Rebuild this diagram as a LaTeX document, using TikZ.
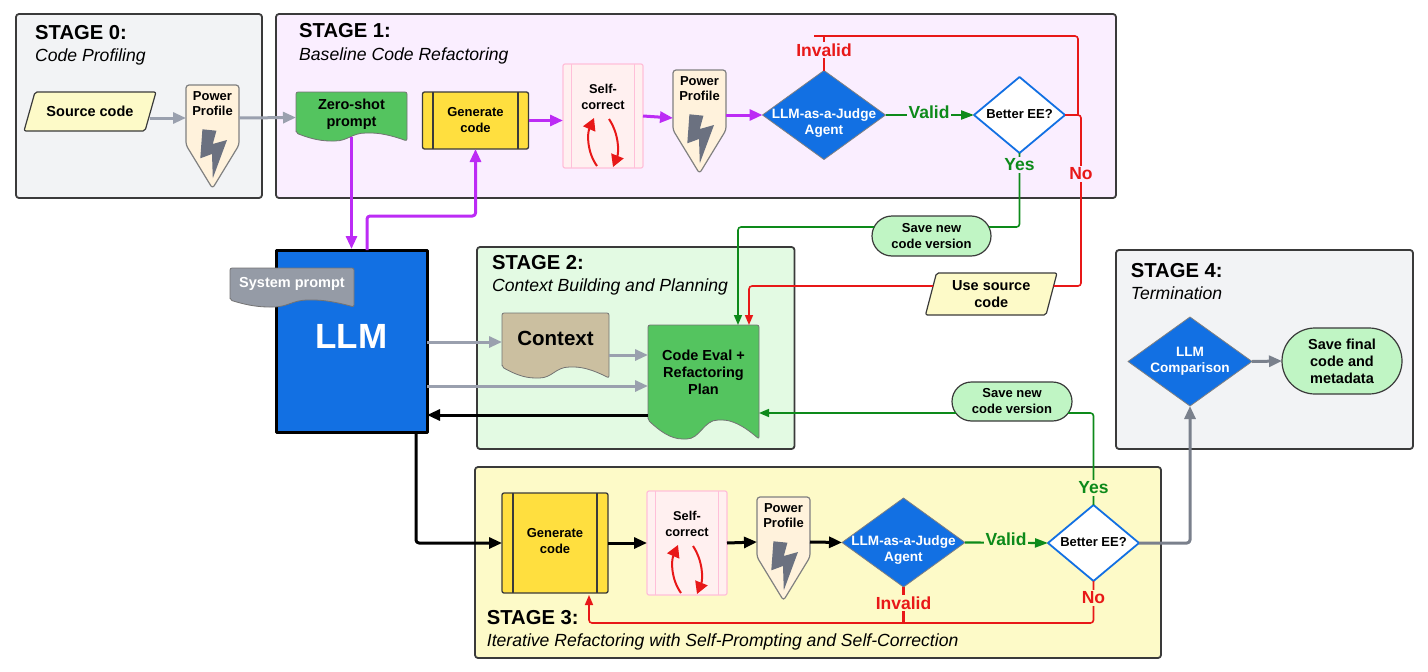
\documentclass[tikz,border=0pt]{standalone}
\usepackage{fontspec}
\setmainfont{Liberation Sans}
\usepackage{xcolor}
\usetikzlibrary{arrows.meta,shapes.geometric,shapes.misc}

\definecolor{stagegrey}{HTML}{F2F3F5}
\definecolor{stageone}{HTML}{FAEEFF}
\definecolor{stagetwo}{HTML}{E3FAE3}
\definecolor{stagethree}{HTML}{FDFAC8}
\definecolor{framecol}{HTML}{3A3A3A}
\definecolor{llmblue}{HTML}{1270E3}
\definecolor{docgreen}{HTML}{54C45F}
\definecolor{genyellow}{HTML}{FFDF3F}
\definecolor{paleyellow}{HTML}{FDFAC8}
\definecolor{palegreen}{HTML}{C0F5C4}
\definecolor{sandcol}{HTML}{CBBFA0}
\definecolor{promptgrey}{HTML}{959BA6}
\definecolor{lightarrow}{HTML}{9AA0AE}
\definecolor{darkarrow}{HTML}{7A808C}
\definecolor{purpleline}{HTML}{BC2BF5}
\definecolor{redline}{HTML}{E81818}
\definecolor{greenline}{HTML}{0D8A1A}
\definecolor{boltcol}{HTML}{6B7180}
\definecolor{ppfill}{HTML}{FFF2DC}
\definecolor{selffill}{HTML}{FFF0F0}
\definecolor{selfline}{HTML}{FFBFD9}

\tikzset{
  stagebox/.style={draw=framecol,line width=1.8pt,rounded corners=3pt},
  titletext/.style={anchor=base west,inner sep=0pt,font=\fontsize{20.2}{23}\selectfont\bfseries},
  subtext/.style={anchor=base west,inner sep=0pt,font=\fontsize{17.6}{21}\selectfont\itshape},
  boldtext/.style={align=center,inner sep=0pt,font=\fontsize{14.5}{17}\selectfont\bfseries},
  smalltext/.style={align=center,inner sep=0pt,font=\fontsize{13}{16}\selectfont\bfseries},
  paratext/.style={boldtext,outer sep=0pt},
  parashape/.style={draw=framecol,line width=1.2pt,fill=paleyellow,rounded corners=2pt},
  docshape/.style={draw=black!55,line width=0.8pt,rounded corners=2pt},
  genbox/.style={smalltext,draw=framecol,line width=1.3pt,fill=genyellow,rounded corners=2pt,outer sep=0pt},
  selfbox/.style={draw=selfline,line width=1.2pt,fill=selffill,rounded corners=2pt,outer sep=0pt,
    minimum width=80pt,minimum height=104pt},
  ppshape/.style={draw=gray,line width=1.2pt,fill=ppfill,rounded corners=3pt},
  ppbox/.style={inner sep=0pt,outer sep=0pt,minimum width=53pt},
  judgebox/.style={diamond,fill=llmblue,draw=gray,line width=0.8pt,inner sep=0pt,outer sep=0pt},
  betterbox/.style={diamond,fill=white,draw=llmblue,line width=1.8pt,inner sep=0pt,outer sep=0pt,
    minimum width=91pt,minimum height=76pt},
  pillbox/.style={rounded rectangle,fill=palegreen,draw=framecol,line width=1.2pt,outer sep=0pt},
  whitetext/.style={smalltext,text=white,font=\fontsize{13.6}{16}\selectfont\bfseries},
  greyarrow/.style={->,draw=lightarrow,line width=3pt},
  darkgrey/.style={->,draw=darkarrow,line width=3pt,rounded corners=3pt},
  purplearrow/.style={->,draw=purpleline,line width=3pt,rounded corners=3pt},
  blackarrow/.style={->,draw=black,line width=3pt,rounded corners=3pt},
  greenarrow/.style={draw=greenline,line width=1.6pt,rounded corners=3pt,
    -{Triangle[length=10pt,width=8pt]}},
  validarrow/.style={draw=greenline,line width=2.2pt,
    -{Triangle[length=13pt,width=9pt]}},
  redarrow/.style={draw=redline,line width=1.6pt,rounded corners=3pt,
    -{Triangle[length=10pt,width=8pt]}},
  redplain/.style={draw=redline,line width=1.6pt,rounded corners=3pt},
  greenplain/.style={draw=greenline,line width=1.6pt,rounded corners=3pt},
  redlabel/.style={text=redline,inner sep=1.5pt,font=\fontsize{17.5}{19}\selectfont\bfseries},
  greenlabel/.style={text=greenline,inner sep=1.5pt,font=\fontsize{17.5}{19}\selectfont\bfseries},
}

% name, left, top, half height of the box
\newcommand{\powerprofile}[4]{
  \begin{scope}[shift={(#2,#3)}]
    \draw[ppshape] (0,0) -- (53,0) -- (53,60) -- (26.5,103.5) -- (0,60) -- cycle;
    \fill[boltcol] (16.4,44.3) -- (30.4,45.7) -- (26.8,59) -- (41,55) -- (26.8,93.3)
      -- (26,69) -- (14.3,73.3) -- cycle;
  \end{scope}
  \node[ppbox,minimum height={2*#4}] (#1) at ({#2+26.5},{#3+#4}) {};
  \node[smalltext,font=\fontsize{13}{15.5}\selectfont\bfseries] (#1text) at ({#2+26.5},{#3+18.5}) {Power\\Profile};
}
% name, left, top
\newcommand{\selfcorrect}[3]{
  \node[selfbox] (#1) at ({#2+40},{#3+52}) {};
  \draw[selfline,line width=1.2pt] ([xshift=8.5pt]#1.north west) -- ([xshift=8.5pt]#1.south west);
  \draw[selfline,line width=1.2pt] ([xshift=-8.5pt]#1.north east) -- ([xshift=-8.5pt]#1.south east);
  \node[smalltext,font=\fontsize{12.8}{16}\selectfont\bfseries] (#1text) at ({#2+40},{#3+33}) {Self-\\correct};
  \draw[redline,line width=2pt,-{Triangle[length=12pt,width=13pt]}]
    ({#2+34},{#3+102}) .. controls ({#2+24},{#3+88}) and ({#2+24},{#3+70}) .. ({#2+31},{#3+54});
  \draw[redline,line width=2pt,-{Triangle[length=12pt,width=13pt]}]
    ({#2+46},{#3+55}) .. controls ({#2+56},{#3+70}) and ({#2+56},{#3+88}) .. ({#2+50},{#3+103});
}
% name, fill, left, top, right, wave left, wave right, font style, text
\newcommand{\docnode}[9]{
  \pgfmathsetmacro\docw{#5-#3}
  \pgfmathsetmacro\docd{#7-#6}
  \draw[docshape,fill=#2] (#3,#6) -- (#3,#4) -- (#5,#4) -- (#5,#7)
    .. controls ({#3+.85*\docw},{#6+.25*\docd}) and ({#3+.75*\docw},#6) .. ({#3+.65*\docw},#6)
    .. controls ({#3+.5*\docw},#6) and ({#3+.47*\docw},#7) .. ({#3+.33*\docw},#7)
    .. controls ({#3+.2*\docw},#7) and ({#3+.1*\docw},{#6+.55*\docd}) .. (#3,#6) -- cycle;
  \node[#8,outer sep=0pt,minimum width={#5-#3},minimum height={#6-#4}] (#1) at ({(#3+#5)/2},{(#4+#6)/2}) {#9};
}
% name, left, top, right, bottom, text
\newcommand{\paranode}[6]{
  \draw[parashape] ({#2+11},#3) -- (#4,#3) -- ({#4-11},#5) -- (#2,#5) -- cycle;
  \node[paratext,minimum width={#4-#2},minimum height={#5-#3}] (#1) at ({(#2+#4)/2},{(#3+#5)/2}) {#6};
}

\begin{document}
\begin{tikzpicture}[x=1pt,y=-1pt,>={Triangle[length=13pt,width=11pt]},line join=round]
  \useasboundingbox (0,0) rectangle (1428,672);
  % stage frames
  \draw[stagebox,fill=stagegrey] (16,14) rectangle (262,198);
  \draw[stagebox,fill=stageone] (276,14) rectangle (1116,198);
  \draw[stagebox,fill=stagetwo] (477,247) rectangle (794.5,449);
  \draw[stagebox,fill=stagethree] (475,467) rectangle (1161,658);
  \draw[stagebox,fill=stagegrey] (1116,250) rectangle (1413,449);
  \node[titletext] (titlezero) at (35,39.5) {STAGE 0:};
  \node[subtext] (subzero) at (35,61.7) {Code Profiling};
  \node[titletext] (titleone) at (299,37.5) {STAGE 1:};
  \node[subtext] (subone) at (299,60) {Baseline Code Refactoring};
  \node[titletext] (titletwo) at (492,269.3) {STAGE 2:};
  \node[subtext] (subtwo) at (492,291.7) {Context Building and Planning};
  \node[titletext] (titlethree) at (486.7,624) {STAGE 3:};
  \node[subtext] (subthree) at (486.7,646.7) {Iterative Refactoring with Self-Prompting and Self-Correction};
  \node[titletext] (titlefour) at (1130.7,277.3) {STAGE 4:};
  \node[subtext] (subfour) at (1130.7,299.3) {Termination};
  % stage 0 and stage 1
  \paranode{srccode}{24}{92}{156}{131}{Source code}
  \powerprofile{ppa}{186}{85}{33}
  \docnode{zeroshot}{docgreen}{296}{92}{407}{133}{141}{boldtext,yshift=-2pt}{Zero-shot\\prompt}
  \node[genbox,minimum width=106pt,minimum height=57pt] (gena) at (475.5,120.5) {Generate\\code};
  \draw[framecol,line width=1.3pt] ([xshift=10.5pt]gena.north west) -- ([xshift=10.5pt]gena.south west);
  \draw[framecol,line width=1.3pt] ([xshift=-10.5pt]gena.north east) -- ([xshift=-10.5pt]gena.south east);
  \selfcorrect{selfa}{563}{64}
  \powerprofile{ppb}{673}{70}{48}
  \node[judgebox,minimum width=123pt,minimum height=89pt] (judgea) at (824,115) {};
  \node[whitetext] (judgeatext) at (824,123) {LLM-as-a-Judge\\Agent};
  \node[betterbox] (bettera) at (1019.5,115) {};
  \node[smalltext] (betteratext) at (1019.5,114) {Better EE?};
  \node[pillbox,minimum width=119pt,minimum height=40pt,smalltext] (pilla) at (931.5,236) {Save new\\code version};
  \paranode{usesrc}{925.5}{273}{1057}{315}{Use source\\code}
  % LLM and stage 2
  \node[draw=black,line width=3pt,fill=llmblue,minimum width=151pt,minimum height=182pt,outer sep=0pt] (llm) at (351.5,341) {};
  \node[text=white,inner sep=0pt,font=\fontsize{35}{40}\selectfont\bfseries] (llmtext) at (351.5,336) {LLM};
  \docnode{sysprompt}{promptgrey}{230}{268}{354}{300}{307}{boldtext,text=white}{System prompt}
  \docnode{context}{sandcol}{502}{313}{609}{367}{378}{boldtext,yshift=2pt,font=\fontsize{20.5}{24}\selectfont\bfseries}{Context}
  \docnode{plan}{docgreen}{648}{325}{759}{420}{439}{boldtext}{Code Eval +\\Refactoring\\Plan}
  \node[pillbox,minimum width=120pt,minimum height=39pt,smalltext] (pillb) at (1012,401.5) {Save new\\code version};
  % stage 3
  \node[genbox,minimum width=106pt,minimum height=100pt] (genb) at (555,543) {};
  \node[smalltext] (genbtext) at (555,541) {Generate\\code};
  \draw[framecol,line width=1.3pt] ([xshift=11pt]genb.north west) -- ([xshift=11pt]genb.south west);
  \draw[framecol,line width=1.3pt] ([xshift=-11pt]genb.north east) -- ([xshift=-11pt]genb.south east);
  \selfcorrect{selfb}{647}{491}
  \powerprofile{ppc}{757}{497}{45}
  \node[judgebox,minimum width=123pt,minimum height=89pt] (judgeb) at (903.5,542.5) {};
  \node[whitetext] (judgebtext) at (903.5,550) {LLM-as-a-Judge\\Agent};
  \node[betterbox] (betterb) at (1093.5,543) {};
  \node[smalltext] (betterbtext) at (1093.5,542) {Better EE?};
  % stage 4
  \node[judgebox,fill=llmblue,minimum width=124pt,minimum height=89pt] (compare) at (1190,361.5) {};
  \node[whitetext] (comparetext) at (1190,361) {LLM\\Comparison};
  \node[pillbox,minimum width=120pt,minimum height=66pt,boldtext] (finalsave) at (1342,361) {Save final\\code and\\metadata};
  % free ends and bends
  \coordinate (invtop) at (824,36);
  \coordinate (invstub) at (814,36);
  \coordinate (invcorner) at (1078,115);
  \coordinate (nobend) at (1081,115);
  \coordinate (purplebend) at (420,216);
  \coordinate (invb) at (903.5,623);
  \coordinate (nob) at (1093.5,623);
  % connectors
  \draw[greyarrow] ([xshift=-6pt,yshift=-6.5pt]srccode.east) -- (ppa.west);
  \draw[greyarrow] (ppa.east) -- ([yshift=-3pt]zeroshot.west);
  \draw[purplearrow] ([yshift=-2pt]zeroshot.south) -- ([yshift=1pt]llm.north -| zeroshot.south);
  \draw[purplearrow] ([xshift=15.5pt]llm.north) |- (purplebend) -| (gena.south);
  \draw[purplearrow] (gena.east) -- ([yshift=-4.5pt]selfa.west);
  \draw[purplearrow] (selfa.east) -- (ppb.west);
  \draw[purplearrow] ([yshift=3pt]ppb.east) -- (judgea.west);
  \draw[validarrow] (judgea.east) -- (bettera.west);
  \draw[redplain] (judgea.north) -- (invtop);
  \draw[redplain] (invstub) -- (invcorner |- invstub) -- (invcorner);
  \draw[redplain] (bettera.east) -- (nobend) |- ([xshift=-3.5pt,yshift=8pt]usesrc.east);
  \draw[redarrow] ([xshift=7.5pt,yshift=8pt]usesrc.west) -| ([xshift=45.5pt]plan.north);
  \draw[greenplain] (bettera.south) |- ([xshift=-2pt,yshift=9pt]pilla.east);
  \draw[greenarrow] ([xshift=2pt,yshift=9pt]pilla.west) -| ([xshift=34.5pt]plan.north);
  \draw[greyarrow] ([yshift=-1pt]llm.east) -- ([yshift=-4pt]context.west);
  \draw[greyarrow] ([yshift=-17pt]context.east) -- ([yshift=17.5pt]plan.west);
  \draw[greyarrow] ([yshift=-45pt]llm.east) -- ([yshift=-13.5pt]plan.west);
  \draw[blackarrow] ([yshift=-42.5pt]plan.west) -- ([yshift=-74pt]llm.east);
  \draw[greenplain] (betterb.north) |- ([xshift=-4pt,yshift=-11.5pt]pillb.east);
  \draw[greenarrow] ([xshift=4pt,yshift=-11.5pt]pillb.west) -- ([yshift=-40.5pt]plan.east);
  \draw[blackarrow] ([xshift=64.5pt]llm.south) |- (genb.west);
  \draw[blackarrow] (genb.east) -- (selfb.west);
  \draw[blackarrow] (selfb.east) -- (ppc.west);
  \draw[blackarrow] (ppc.east) -- (judgeb.west);
  \draw[validarrow] (judgeb.east) -- (betterb.west);
  \draw[redplain,line width=2.8pt] (judgeb.south) -- (invb);
  \draw[redarrow] (betterb.south) -- (nob) -| ([xshift=34pt,yshift=-2pt]genb.south);
  \draw[darkgrey] (betterb.east) -| (compare.south);
  \draw[greyarrow,draw=darkarrow] (compare.east) -- (finalsave.west);
  % labels on the lines
  \node[redlabel,fill=stageone] (invalida) at (824,50) {Invalid};
  \node[greenlabel,fill=stageone] (valida) at (929,112) {Valid};
  \node[greenlabel,fill=stageone] (yesa) at (1019.5,165) {Yes};
  \node[redlabel,fill=stageone] (noa) at (1081,174) {No};
  \node[redlabel,fill=stagethree] (invalidb) at (903.5,603) {Invalid};
  \node[greenlabel,fill=stagethree] (validb) at (1006,539) {Valid};
  \node[greenlabel,fill=stagethree] (yesb) at (1093.5,488) {Yes};
  \node[redlabel,fill=stagethree] (nolabelb) at (1093.5,598) {No};
\end{tikzpicture}
\end{document}
